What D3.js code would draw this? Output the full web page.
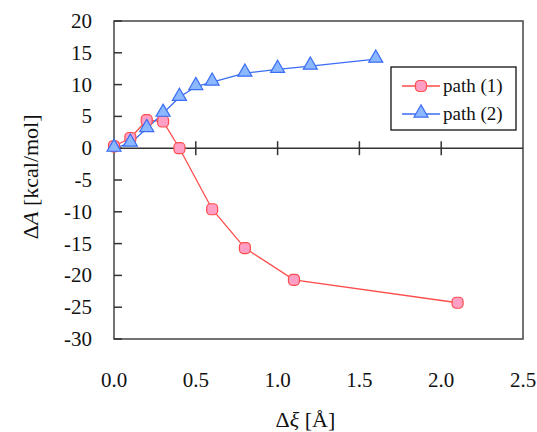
<!DOCTYPE html>
<html>
<head>
<meta charset="utf-8">
<script src="https://cdn.jsdelivr.net/npm/d3@7"></script>
<style>
  body { margin: 0; background: #fff; }
  svg text, svg tspan { font-family: "Liberation Serif", serif !important; }
</style>
</head>
<body>
<script>
// values
var path1X = [0.0, 0.1, 0.2, 0.3, 0.4, 0.6, 0.8, 1.1, 2.1];
var path1Y = [0.3, 1.6, 4.4, 4.2, 0.0, -9.6, -15.7, -20.7, -24.3];
var path2X = [0.0, 0.1, 0.2, 0.3, 0.4, 0.5, 0.6, 0.8, 1.0, 1.2, 1.6];
var path2Y = [0.0, 0.8, 3.1, 5.5, 8.0, 9.7, 10.4, 11.8, 12.4, 12.9, 14.0];
var xTicks = [0, 0.5, 1.0, 1.5, 2.0, 2.5];
var yTicks = [20, 15, 10, 5, 0, -5, -10, -15, -20, -25, -30];
var seriesNames = ["path (1)", "path (2)"];

var margin = {top: 21, right: 14, bottom: 93, left: 114},
    width = 537 - margin.left - margin.right,
    height = 432 - margin.top - margin.bottom;

var x = d3.scaleLinear().domain([0, 2.5]).range([0, width]);
var y = d3.scaleLinear().domain([-30, 20]).range([height, 0]);

var svg = d3.select("body").append("svg")
    .attr("width", 537)
    .attr("height", 432)
  .append("g")
    .attr("transform", "translate(" + margin.left + "," + margin.top + ")");

// plot frame
svg.append("rect")
    .attr("width", width).attr("height", height)
    .attr("fill", "none").attr("stroke", "#444").attr("stroke-width", 1.5);

// y ticks (inward) + labels
svg.selectAll(".ytick").data(yTicks).enter().append("line")
    .attr("x1", 0).attr("x2", 8)
    .attr("y1", function(d) { return y(d); })
    .attr("y2", function(d) { return y(d); })
    .attr("stroke", "#333").attr("stroke-width", 1.5);
svg.selectAll(".ylab").data(yTicks).enter().append("text")
    .attr("x", -22)
    .attr("y", function(d) { return y(d) + 7; })
    .attr("text-anchor", "end")
    .attr("font-size", 21)
    .attr("fill", "#111")
    .text(function(d) { return d; });

// zero line with crossing x ticks
svg.append("line")
    .attr("x1", 0).attr("x2", width)
    .attr("y1", y(0)).attr("y2", y(0))
    .attr("stroke", "#333").attr("stroke-width", 1.5);
svg.selectAll(".xtick").data(xTicks.slice(1, -1)).enter().append("line")
    .attr("x1", function(d) { return x(d); })
    .attr("x2", function(d) { return x(d); })
    .attr("y1", y(0) - 7).attr("y2", y(0) + 7)
    .attr("stroke", "#333").attr("stroke-width", 1.5);
svg.selectAll(".xlab").data(xTicks).enter().append("text")
    .attr("x", function(d) { return x(d); })
    .attr("y", height + 48)
    .attr("text-anchor", "middle")
    .attr("font-size", 21)
    .attr("fill", "#111")
    .text(function(d) { return d3.format(".1f")(d); });

// axis titles
var xt = svg.append("text")
    .attr("x", x(1.17)).attr("y", height + 88)
    .attr("text-anchor", "middle")
    .attr("font-size", 22)
    .attr("fill", "#111");
xt.append("tspan").text("Δ");
xt.append("tspan").attr("font-style", "italic").text("ξ");
xt.append("tspan").text(" [Å]");

var yt = svg.append("text")
    .attr("transform", "translate(" + (-76) + "," + y(-4.5) + ") rotate(-90)")
    .attr("text-anchor", "middle")
    .attr("font-size", 22)
    .attr("fill", "#111");
yt.append("tspan").text("Δ");
yt.append("tspan").attr("font-style", "italic").text("A");
yt.append("tspan").text(" [kcal/mol]");

var line = d3.line()
    .x(function(d) { return x(d[0]); })
    .y(function(d) { return y(d[1]); });

var data1 = path1X.map(function(v, i) { return [v, path1Y[i]]; });
var data2 = path2X.map(function(v, i) { return [v, path2Y[i]]; });

var red = "#ff4c4c", pink = "#ff9fc4", blue = "#3a6cf4", lightBlue = "#8cb8ff";
var tri = d3.symbol().type(d3.symbolTriangle).size(85);

function drawCircles(g, pts) {
  g.selectAll(".c").data(pts).enter().append("rect")
    .attr("x", function(d) { return x(d[0]) - 5.5; })
    .attr("y", function(d) { return y(d[1]) - 5.5; })
    .attr("width", 11).attr("height", 11).attr("rx", 4)
    .attr("fill", pink).attr("stroke", red).attr("stroke-width", 1.2);
}
function drawTris(g, pts) {
  g.selectAll(".t").data(pts).enter().append("path")
    .attr("d", tri)
    .attr("transform", function(d) { return "translate(" + x(d[0]) + "," + (y(d[1]) - 1) + ")"; })
    .attr("fill", lightBlue).attr("stroke", blue).attr("stroke-width", 1.2);
}

svg.append("path").datum(data1).attr("d", line)
    .attr("fill", "none").attr("stroke", red).attr("stroke-width", 1.3);
svg.append("path").datum(data2).attr("d", line)
    .attr("fill", "none").attr("stroke", blue).attr("stroke-width", 1.3);
drawCircles(svg.append("g"), data1);
drawTris(svg.append("g"), data2);

// legend
var lg = svg.append("g").attr("transform", "translate(" + (391 - margin.left) + "," + (67 - margin.top) + ")");
lg.append("rect").attr("width", 125).attr("height", 63)
    .attr("fill", "#fff").attr("stroke", "#111").attr("stroke-width", 1.3);
[0, 1].forEach(function(i) {
  var cy = 19 + i * 28;
  lg.append("line").attr("x1", 11).attr("x2", 49).attr("y1", cy).attr("y2", cy)
    .attr("stroke", i === 0 ? red : blue).attr("stroke-width", 1.3);
  if (i === 0) {
    lg.append("rect").attr("x", 24.5).attr("y", cy - 5.5).attr("width", 11).attr("height", 11).attr("rx", 4)
      .attr("fill", pink).attr("stroke", red).attr("stroke-width", 1.2);
  } else {
    lg.append("path").attr("d", tri).attr("transform", "translate(30," + (cy - 1) + ")")
      .attr("fill", lightBlue).attr("stroke", blue).attr("stroke-width", 1.2);
  }
  lg.append("text").attr("x", 52).attr("y", cy + 6)
    .attr("font-size", 19)
    .attr("fill", "#111")
    .text(seriesNames[i]);
});
</script>
</body>
</html>
